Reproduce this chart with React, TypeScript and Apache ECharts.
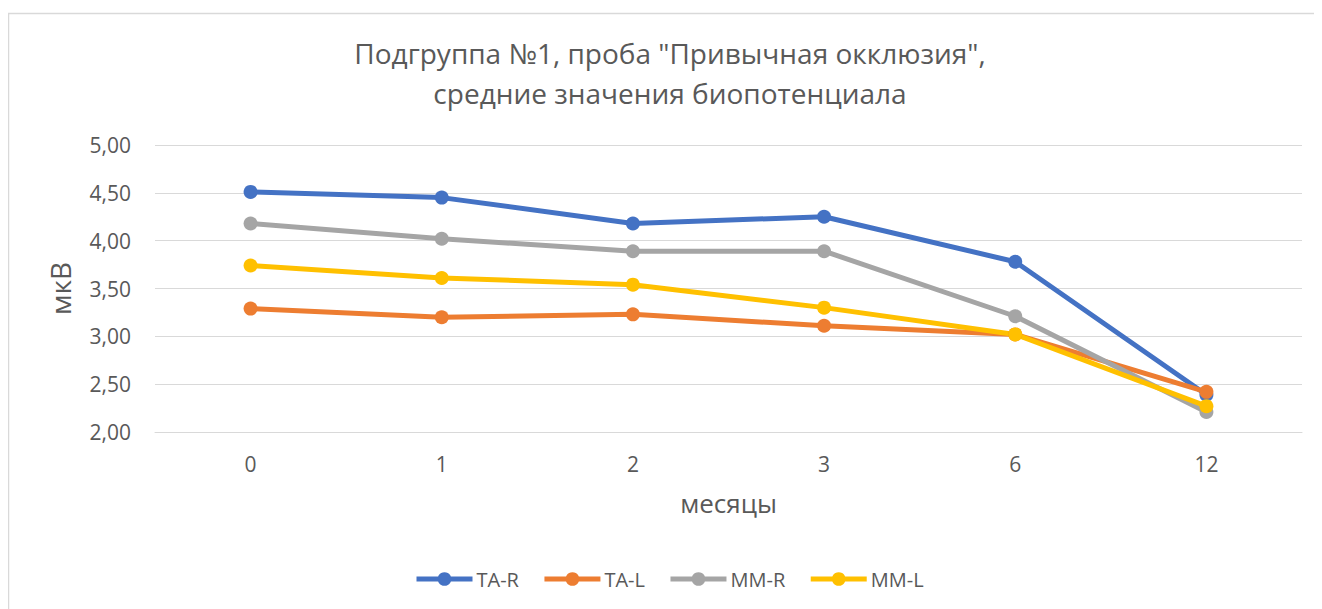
import React, { useEffect, useRef } from "react";
import * as echarts from "echarts";

const months = ["0", "1", "2", "3", "6", "12"];
const taR = [4.51, 4.45, 4.18, 4.25, 3.78, 2.39];
const taL = [3.29, 3.2, 3.23, 3.11, 3.02, 2.42];
const mmR = [4.18, 4.02, 3.89, 3.89, 3.21, 2.21];
const mmL = [3.74, 3.61, 3.54, 3.3, 3.02, 2.27];
const seriesNames = ["TA-R", "TA-L", "MM-R", "MM-L"];
const colors = ["#4472c4", "#ed7d31", "#a5a5a5", "#ffc000"];

const FONT = "'Open Sans', 'Noto Sans', sans-serif";

export default function App() {
  const ref = useRef<HTMLDivElement>(null);
  useEffect(() => {
    if (!ref.current) return;
    const chart = echarts.init(ref.current, null, { renderer: "svg" });
    const data = [taR, taL, mmR, mmL];
    chart.setOption({
      animation: false,
      textStyle: { fontFamily: FONT },
      title: {
        text: 'Подгруппа №1, проба "Привычная окклюзия",\nсредние значения биопотенциала',
        left: 657,
        top: 20,
        textAlign: "center",
        textStyle: {
          fontFamily: FONT,
          fontSize: 28,
          fontWeight: "normal",
          color: "#595959",
          lineHeight: 40,
        },
      },
      legend: {
        data: seriesNames,
        left: 401,
        top: 556,
        itemWidth: 56,
        itemHeight: 17,
        itemGap: 23,
        lineStyle: { width: 5 },
        textStyle: { fontFamily: FONT, fontSize: 20, color: "#595959", padding: [0, 0, 0, -1] },
      },
      grid: { left: 147, right: 20, top: 137, bottom: 177, containLabel: false },
      xAxis: {
        type: "category",
        data: months,
        boundaryGap: true,
        name: "месяцы",
        nameLocation: "middle",
        nameGap: 58,
        nameTextStyle: { fontFamily: FONT, fontSize: 26, color: "#595959" },
        axisLine: { show: true, lineStyle: { color: "#d9d9d9", width: 1 } },
        axisTick: { show: false },
        axisLabel: { fontFamily: FONT, fontSize: 21, color: "#595959", margin: 21 },
      },
      yAxis: {
        type: "value",
        min: 2,
        max: 5,
        interval: 0.5,
        name: "мкВ",
        nameLocation: "middle",
        nameGap: 81,
        nameTextStyle: { fontFamily: FONT, fontSize: 28, color: "#595959" },
        axisLine: { show: false },
        axisTick: { show: false },
        splitLine: { lineStyle: { color: "#d9d9d9", width: 1 } },
        axisLabel: {
          fontFamily: FONT,
          fontSize: 21,
          color: "#595959",
          margin: 24,
          formatter: (v: number) => v.toFixed(2).replace(".", ","),
        },
      },
      graphic: [
        {
          type: "polyline",
          shape: { points: [[0.5, 601], [0.5, 5.5], [1314, 5.5]] },
          style: { stroke: "#d9d9d9", lineWidth: 1.5, fill: "none" },
          silent: true,
        },
      ],
      series: seriesNames.map((n, i) => ({
        name: n,
        type: "line",
        data: data[i],
        symbol: "circle",
        symbolSize: 14,
        lineStyle: { color: colors[i], width: 5 },
        itemStyle: { color: colors[i] },
      })),
    });
    return () => chart.dispose();
  }, []);
  return <div ref={ref} style={{ width: 1314, height: 601 }} />;
}
